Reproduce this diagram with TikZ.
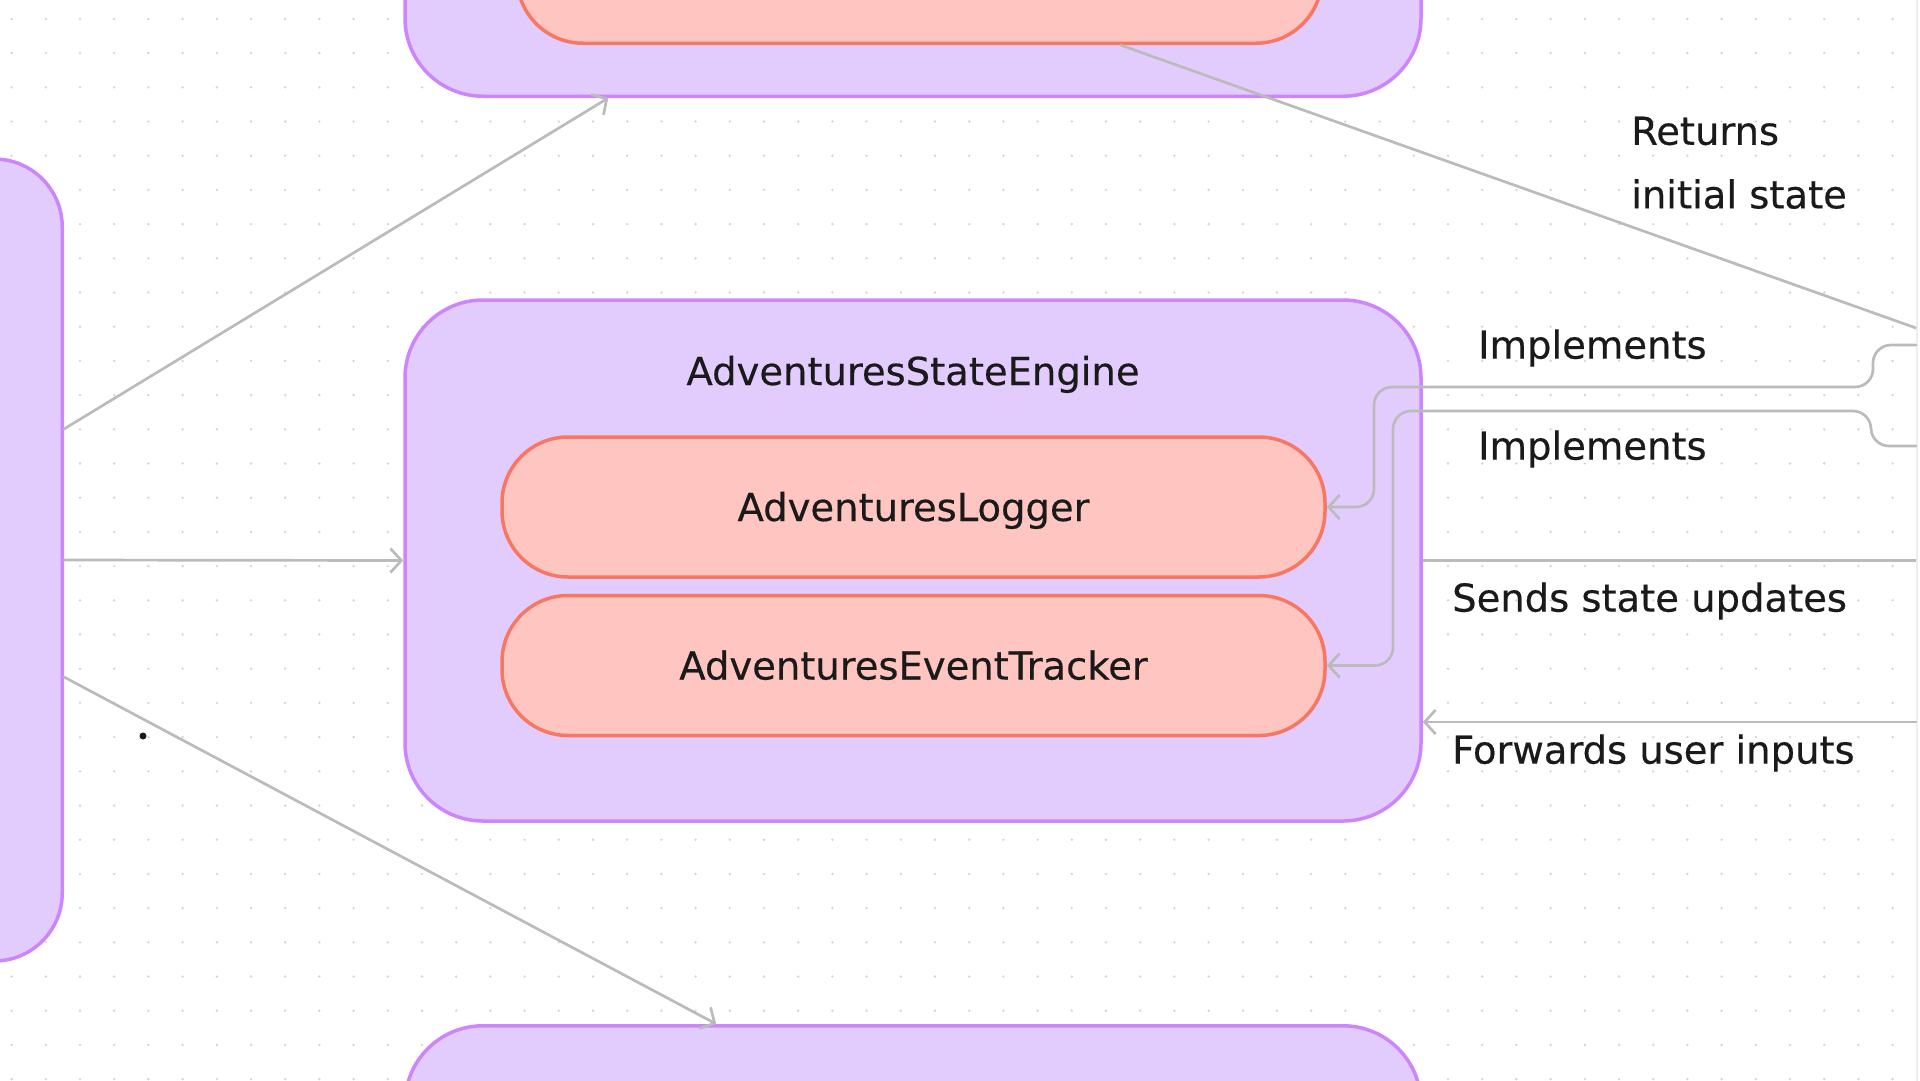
\documentclass[tikz,border=0pt]{standalone}
\usepackage{fontspec}
\setmainfont{DejaVu Sans}[FakeBold=0.4]
\usetikzlibrary{arrows.meta}
\definecolor{pfill}{HTML}{E2CCFE}
\definecolor{pdraw}{HTML}{CD85FB}
\definecolor{rfill}{HTML}{FFC5C0}
\definecolor{rdraw}{HTML}{F87762}
\definecolor{conncol}{HTML}{BBBBBB}
\definecolor{dotc}{HTML}{D4D4D4}
\definecolor{txt}{HTML}{1A1A1A}
\definecolor{edgec}{HTML}{EDEDED}
\newcommand\diaglbl{\fontsize{38.5}{64}\selectfont}
\begin{document}
\begin{tikzpicture}[x=1pt,y=-1pt,
  outerbox/.style={draw=pdraw, fill=pfill, line width=3.5pt, rounded corners=78pt, minimum width=1016pt, minimum height=521pt, inner sep=0pt},
  innerbox/.style={draw=rdraw, fill=rfill, line width=3.5pt, rounded corners=66pt, minimum width=823pt, minimum height=140pt, inner sep=0pt, font=\diaglbl, text=txt, text height=28pt, text depth=0pt},
  lbl/.style={font=\diaglbl, text=txt, inner sep=0pt, anchor=west},
  conn/.style={draw=conncol, line width=2.7pt, line cap=round, -{Straight Barb[length=11pt, width=24pt]}},
  plainconn/.style={draw=conncol, line width=2.7pt},
]
\useasboundingbox (0,0) rectangle (1920,1080);
\clip (0,0) rectangle (1920,1080);
\fill[white] (0,0) rectangle (1920,1080);
% dotted grid
\foreach \i in {0,...,56} {
  \foreach \j in {0,...,31} {
    \fill[dotc] (11.6+34.2*\i, 18.9+34.2*\j) circle (1.3pt);
  }
}
% right edge boundary
\node[draw=edgec, fill=white, line width=1.5pt, minimum width=400pt, minimum height=1300pt, anchor=west, inner sep=0pt] (rightbox) at (1916,540) {};

% boxes
\node[outerbox, anchor=south] (topbox) at (913,98) {};
\node[innerbox, minimum width=805pt, anchor=south] (topinner) at (919.5,45) {};
\node[outerbox, minimum width=400pt, minimum height=802pt, rounded corners=68pt, anchor=east] (leftbox) at (64,560) {};
\node[outerbox] (engine) at (913,560.5) {};
\node[outerbox, anchor=north] (botbox) at (913,1024) {};

\node[font=\diaglbl, text=txt, inner sep=0pt, text height=28pt, text depth=0pt] (title) at (913,371) {AdventuresStateEngine};
\node[innerbox] (logger) at (913.5,507) {AdventuresLogger};
\node[innerbox] (tracker) at (913.5,665.5) {AdventuresEventTracker};

% free ends
\coordinate (imp1) at (1916,345);
\coordinate (imp2) at (1916,446);
\coordinate (retend) at (1916,328);
\coordinate (sendend) at (1916,560.5);
\coordinate (fwdstart) at (1916,722);

% connectors from left box
\draw[conn] ([yshift=131pt]leftbox.east) -- ([xshift=205pt]topbox.south west);
\draw[conn] (leftbox.east) -- (engine.west);
\draw[conn] ([yshift=-117pt]leftbox.east) -- ([xshift=313pt]botbox.north west);

% returns initial state
\draw[plainconn] ([xshift=605pt]topinner.south west) -- (retend);

% implements
\draw[conn, rounded corners=18pt] (imp1) -- (1873,345) -- (1873,387) -- (1374,387) -- (1374,507) -- (logger.east);
\draw[conn, rounded corners=18pt] (imp2) -- (1871,446) -- (1871,411) -- (1393,411) -- (1393,665.5) -- (tracker.east);

% sends / forwards
\draw[plainconn] (engine.east) -- (sendend);
\draw[conn] (fwdstart) -- ([yshift=-161.5pt]engine.east);

% small dot
\fill[txt] (143,736) circle (3.5pt);

% labels
\node[lbl] (ret1) at (1631,131) {Returns};
\node[lbl] (ret2) at (1631,194) {initial state};
\node[lbl] (impl1) at (1478,348) {Implements};
\node[lbl] (impl2) at (1478,449) {Implements};
\node[lbl] (sends) at (1452,601) {Sends state updates};
\node[lbl] (fwd) at (1452,753) {Forwards user inputs};
\end{tikzpicture}
\end{document}
